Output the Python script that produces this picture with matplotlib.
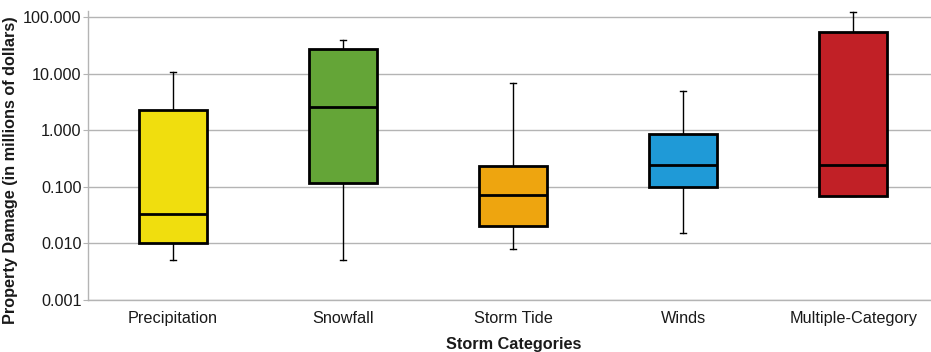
import matplotlib
matplotlib.use("Agg")
import matplotlib.pyplot as plt
from matplotlib.ticker import FixedLocator, FormatStrFormatter

plt.rcParams['font.family'] = ['Liberation Sans', 'DejaVu Sans']

# storm categories and their property damage summaries (millions of dollars)
categories = ["Precipitation", "Snowfall", "Storm Tide", "Winds", "Multiple-Category"]
whisker_low = [0.005, 0.005, 0.008, 0.015, 0.068]
q1 = [0.010, 0.117, 0.020, 0.100, 0.068]
median = [0.033, 2.58, 0.072, 0.246, 0.244]
q3 = [2.26, 27.1, 0.237, 0.86, 54.3]
whisker_high = [10.9, 39.6, 7.0, 4.9, 125.0]
box_colors = ["#F0DE0E", "#64A537", "#EEA50F", "#1F9AD7", "#C12026"]

y_ticks = [0.001, 0.01, 0.1, 1, 10, 100]
font_size = 11.7
text_color = "#1a1a1a"


def build_stats():
    stats = []
    for i, name in enumerate(categories):
        stats.append({
            "label": name,
            "whislo": whisker_low[i],
            "q1": q1[i],
            "med": median[i],
            "q3": q3[i],
            "whishi": whisker_high[i],
            "fliers": [],
        })
    return stats


fig = plt.figure(figsize=(9.31, 3.52), dpi=100)
ax = fig.add_axes([88 / 931, 52 / 352, 850.5 / 931, 289 / 352])

parts = ax.bxp(build_stats(), positions=range(len(categories)), widths=0.4,
               patch_artist=True, showfliers=False,
               boxprops=dict(linewidth=2.0, edgecolor="black"),
               medianprops=dict(linewidth=2.0, color="black"),
               whiskerprops=dict(linewidth=1.0, color="black"),
               capprops=dict(linewidth=1.0, color="black"),
               capwidths=0.035)
for patch, color in zip(parts["boxes"], box_colors):
    patch.set_facecolor(color)
    patch.set_zorder(3)
for line in parts["medians"]:
    line.set_zorder(4)
for line in parts["whiskers"] + parts["caps"]:
    line.set_zorder(2)
    line.set_clip_on(False)

ax.set_yscale("log")
ax.set_ylim(0.001, 129)
ax.set_xlim(-0.5, len(categories) - 0.5)
ax.yaxis.set_major_locator(FixedLocator(y_ticks))
ax.yaxis.set_minor_locator(FixedLocator([]))
ax.yaxis.set_major_formatter(FormatStrFormatter("%.3f"))
ax.grid(axis="y", color="#B4B4B4", linewidth=1.0, zorder=0)
ax.set_axisbelow(True)

for side in ["top", "right"]:
    ax.spines[side].set_visible(False)
for side in ["left", "bottom"]:
    ax.spines[side].set_color("#B4B4B4")
    ax.spines[side].set_linewidth(1.0)

ax.tick_params(axis="y", direction="out", length=3.6, color="#B4B4B4",
               labelsize=font_size, labelcolor=text_color, pad=1)
ax.tick_params(axis="x", length=0, labelsize=font_size, labelcolor=text_color, pad=8)
ax.set_xticks(range(len(categories)))
ax.set_xticklabels(categories)

ax.set_ylabel("Property Damage (in millions of dollars)", fontsize=font_size,
              fontweight="bold", color=text_color)
ax.yaxis.set_label_coords(-0.0823, 0.45)
ax.set_xlabel("Storm Categories", fontsize=font_size, fontweight="bold",
              color=text_color, labelpad=8)

fig.savefig("out.png", dpi=100)
